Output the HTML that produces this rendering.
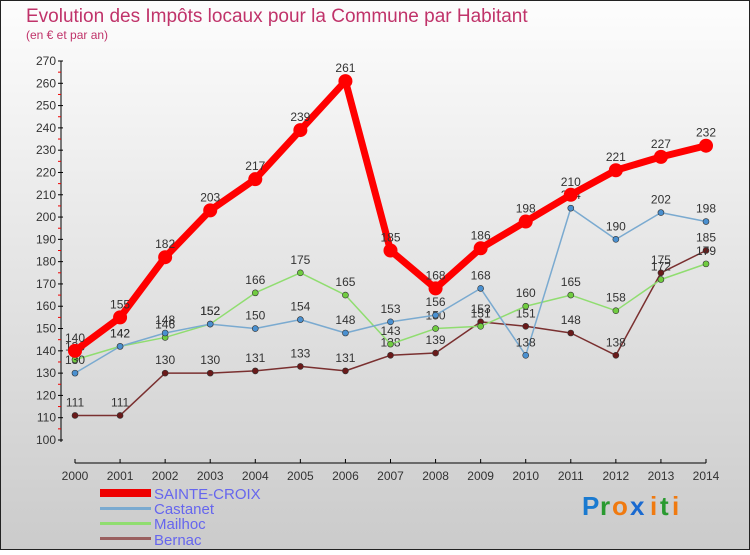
<!DOCTYPE html>
<html><head><meta charset="utf-8"><style>
body{margin:0}
svg text{font-family:"Liberation Sans",sans-serif}
</style></head><body>
<svg id="c" width="750" height="550" xmlns="http://www.w3.org/2000/svg">
<defs><linearGradient id="bg" x1="0" y1="0" x2="0" y2="1"><stop offset="0" stop-color="#fdfdfd"/><stop offset="1" stop-color="#cbcbcb"/></linearGradient></defs>
<rect x="0.5" y="0.5" width="749" height="549" fill="url(#bg)" stroke="#222"/>
<text x="26" y="22" font-size="19" fill="#c0336a">Evolution des Impôts locaux pour la Commune par Habitant</text>
<text x="26" y="39" font-size="12" fill="#c0336a">(en € et par an)</text>
<g id="axes"></g><g id="series"></g>
<g>
<rect x="100" y="489" width="51" height="8" fill="#e00"/>
<text x="154" y="499" font-size="15" fill="#6666ee">SAINTE-CROIX</text>
<rect x="100" y="507" width="51" height="3" fill="#7aaad0"/>
<text x="154" y="514" font-size="15" fill="#6666ee">Castanet</text>
<rect x="100" y="522" width="51" height="3" fill="#90dd70"/>
<text x="154" y="529" font-size="15" fill="#6666ee">Mailhoc</text>
<rect x="100" y="537" width="51" height="3" fill="#9a6060"/>
<text x="154" y="545" font-size="15" fill="#6666ee">Bernac</text>
</g>
<g font-size="26" font-weight="bold">
<text x="582" y="515" fill="#1a7ad0">P</text><text x="600" y="515" fill="#2a9a30">r</text><text x="612" y="515" fill="#f07a10">o</text><text x="630" y="515" fill="#1a6ad0">x</text><text x="650" y="515" fill="#f07a10">i</text><text x="660" y="515" fill="#2a9a30">t</text><text x="672" y="515" fill="#f07a10">i</text>
</g>
</svg>
<script>
const years=[2000,2001,2002,2003,2004,2005,2006,2007,2008,2009,2010,2011,2012,2013,2014];
const sainteCroix=[140,155,182,203,217,239,261,185,168,186,198,210,221,227,232];
const castanet=[130,142,148,152,150,154,148,153,156,168,138,204,190,202,198];
const mailhoc=[136,142,146,152,166,175,165,143,150,151,160,165,158,172,179];
const bernac=[111,111,130,130,131,133,131,138,139,153,151,148,138,175,185];
const yTicks=[100,110,120,130,140,150,160,170,180,190,200,210,220,230,240,250,260,270];
const NS="http://www.w3.org/2000/svg";
const xs=i=>75+i*(706-75)/(years.length-1);
const ys=v=>440-(v-100)*(440-61)/170;
function mk(t,a,p){const e=document.createElementNS(NS,t);for(const k in a)e.setAttribute(k,a[k]);p.appendChild(e);return e;}
const ax=document.getElementById('axes');
mk('line',{x1:61,y1:61,x2:61,y2:442,stroke:'#000'},ax);
yTicks.forEach(v=>{const y=ys(v);
mk('line',{x1:58,y1:y,x2:63,y2:y,stroke:'#000'},ax);
mk('line',{x1:58,y1:y+11.15,x2:61,y2:y+11.15,stroke:'#e00'},ax).setAttribute('visibility',v===100?'hidden':'visible');
const t=mk('text',{x:56,y:y+4,'font-size':12,fill:'#333','text-anchor':'end'},ax);t.textContent=v;
});
mk('line',{x1:75,y1:463,x2:706,y2:463,stroke:'#000'},ax);
years.forEach((yr,i)=>{const x=xs(i);mk('line',{x1:x,y1:459,x2:x,y2:463,stroke:'#000'},ax);
const t=mk('text',{x:x,y:480,'font-size':12,fill:'#333','text-anchor':'middle'},ax);t.textContent=yr;
});
const sg=document.getElementById('series');
function draw(name,data,color,w,r,dot,labels){
const g=mk('g',{},sg);
const pts=data.map((v,i)=>xs(i)+','+ys(v)).join(' ');
mk('polyline',{points:pts,fill:'none',stroke:color,'stroke-width':w,'stroke-linejoin':'round'},g);
data.forEach((v,i)=>{const c=mk('circle',{cx:xs(i),cy:ys(v),r:r,fill:dot,stroke:'#333','stroke-width':r>4?0:0.6},g);

if(labels){const t=mk('text',{x:xs(i),y:ys(v)-9,'font-size':12,fill:'#333','text-anchor':'middle'},g);t.textContent=v;}});
}
draw('bernac',bernac,'#7a3030',1.5,3,'#6a1a1a',true);
draw('mailhoc',mailhoc,'#90dd70',1.5,3,'#70cc40',true);
draw('castanet',castanet,'#7aaad0',1.5,3,'#4a90d0',true);
draw('sainte-croix',sainteCroix,'#f00',7,7,'#f00',true);
</script>
</body></html>
